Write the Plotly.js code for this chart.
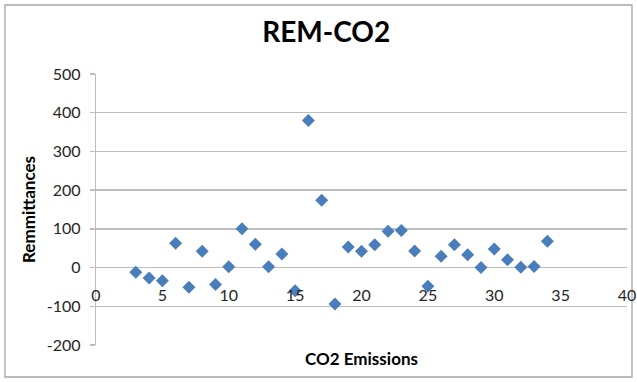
<!DOCTYPE html>
<html>
<head>
<meta charset="utf-8">
<script src="https://cdn.plot.ly/plotly-3.0.1.min.js"></script>
<style>html,body{margin:0;padding:0;background:#fff;}#chart{width:637px;height:382px;}</style>
</head>
<body>
<div id="chart"></div>
<script>
const co2Emissions = [3, 4, 5, 6, 7, 8, 9, 10, 11, 12, 13, 14, 15, 16, 17, 18, 19, 20, 21, 22, 23, 24, 25, 26, 27, 28, 29, 30, 31, 32, 33, 34];
const remittances = [-12, -27, -34, 63, -51, 42, -44, 2, 100, 60, 2, 35, -60, 380, 174, -94, 53, 42, 59, 94, 96, 43, -48, 29, 59, 33, 0, 48, 20, 1, 3, 68];
const xTicks = [0, 5, 10, 15, 20, 25, 30, 35, 40];
const yTicks = [-200, -100, 0, 100, 200, 300, 400, 500];

const fontFam = 'Lato, "Open Sans", sans-serif';

const trace = {
  x: co2Emissions,
  y: remittances,
  type: 'scatter',
  mode: 'markers',
  marker: {symbol: 'diamond', size: 10, color: '#4a7ebb', line: {width: 0}},
  hoverinfo: 'x+y'
};

const layout = {
  width: 637, height: 382,
  margin: {l: 96, r: 10, t: 74, b: 37},
  paper_bgcolor: '#ffffff',
  plot_bgcolor: '#ffffff',
  showlegend: false,
  title: {text: '<b>REM-CO2</b>', x: 0.512, xanchor: 'center', y: 0.915, yanchor: 'middle',
          font: {family: fontFam, size: 28, color: '#000000'}},
  xaxis: {
    range: [0, 40], tickvals: xTicks, ticktext: xTicks.map(String),
    showgrid: false, zeroline: false,
    showline: false,
    anchor: 'free', position: 2/7,
    ticks: 'outside', ticklen: 13, tickcolor: 'rgba(0,0,0,0)',
    tickfont: {family: fontFam, size: 16, color: '#262626'},
    title: {text: '<b>CO2 Emissions</b>', standoff: 50,
            font: {family: fontFam, size: 17, color: '#000000'}},
    fixedrange: true
  },
  yaxis: {
    range: [-200, 500], tickvals: yTicks, ticktext: yTicks.map(String),
    showgrid: true, gridcolor: '#bdbdbd', gridwidth: 1.3,
    zeroline: true, zerolinecolor: '#bdbdbd', zerolinewidth: 1.3,
    showline: true, linecolor: '#bdbdbd', linewidth: 1.3,
    ticks: 'outside', ticklen: 5, tickcolor: '#bdbdbd', tickwidth: 1.3,
    ticklabelstandoff: 6,
    tickfont: {family: fontFam, size: 16, color: '#262626'},
    title: {text: '<b>Remmittances</b>', standoff: 6,
            font: {family: fontFam, size: 17, color: '#000000'}},
    fixedrange: true
  },
  shapes: [{
    type: 'rect', xref: 'paper', yref: 'paper',
    x0: -0.1714, x1: 1.0094, y0: -0.118, y1: 1.2546,
    line: {color: '#a6a6a6', width: 1.3}, fillcolor: 'rgba(0,0,0,0)', layer: 'below'
  }]
};

Plotly.newPlot('chart', [trace], layout, {displayModeBar: false, staticPlot: true});
</script>
</body>
</html>
